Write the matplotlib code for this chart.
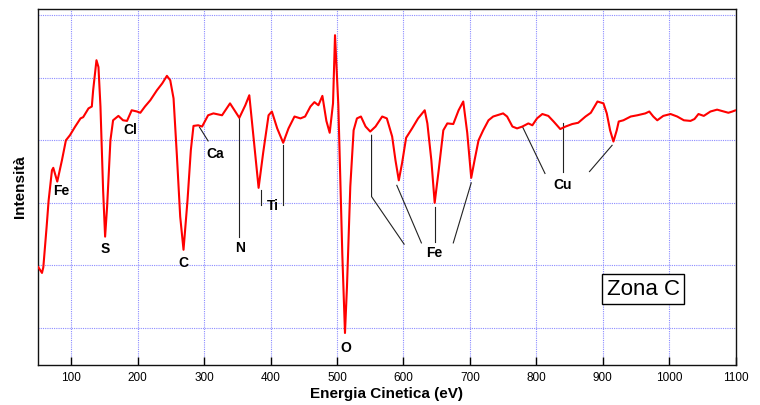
import numpy as np
import matplotlib
matplotlib.use("Agg")
import matplotlib.pyplot as plt

plt.rcParams['font.family'] = ['Liberation Sans', 'DejaVu Sans']

# spectrum (kinetic energy in eV, intensity in grid units)
energy = [50, 53, 56, 58, 63, 66, 71, 73, 79, 86, 92, 98, 106, 114, 118, 126, 131,
          133, 138, 141, 144, 148, 151, 154, 159, 163, 171, 178, 184, 191, 199, 204,
          211, 219, 229, 237, 244, 249, 254, 259, 264, 269, 275, 280, 284, 291, 297,
          306, 314, 327, 339, 347, 353, 362, 368, 374, 382, 389, 397, 402, 410, 419,
          427, 436, 445, 452, 460, 466, 472, 478, 484, 489, 494, 497, 502, 508, 512,
          515, 520, 525, 530, 536, 543, 550, 558, 568, 575, 583, 588, 593, 598, 604,
          613, 622, 632, 636, 642, 647, 653, 660, 666, 675, 683, 690, 696, 702, 707,
          713, 720, 728, 735, 741, 750, 756, 764, 771, 779, 788, 794, 801, 809, 818,
          826, 836, 844, 854, 863, 874, 882, 892, 901, 906, 911, 916, 921, 924, 931,
          942, 952, 964, 970, 976, 982, 991, 1002, 1012, 1022, 1032, 1038, 1044, 1052,
          1062, 1072, 1082, 1089, 1095, 1100]
intensity = [0.98, 0.93, 0.88, 0.97, 1.62, 2.04, 2.52, 2.56, 2.34, 2.68, 3.00, 3.08,
             3.22, 3.35, 3.37, 3.51, 3.54, 3.80, 4.28, 4.17, 3.54, 2.20, 1.46, 1.94,
             3.00, 3.32, 3.39, 3.32, 3.31, 3.48, 3.46, 3.44, 3.54, 3.64, 3.80, 3.91,
             4.03, 3.96, 3.67, 2.76, 1.78, 1.25, 2.04, 2.84, 3.23, 3.24, 3.22, 3.40,
             3.43, 3.40, 3.59, 3.46, 3.36, 3.56, 3.72, 3.08, 2.24, 2.81, 3.40, 3.46,
             3.19, 2.96, 3.19, 3.38, 3.35, 3.38, 3.54, 3.61, 3.56, 3.71, 3.31, 3.12,
             3.59, 4.68, 3.56, 1.17, -0.08, 0.66, 2.26, 3.16, 3.35, 3.38, 3.22, 3.14,
             3.22, 3.38, 3.35, 3.06, 2.68, 2.36, 2.64, 3.04, 3.19, 3.35, 3.48, 3.27,
             2.68, 2.00, 2.52, 3.16, 3.27, 3.26, 3.48, 3.62, 3.12, 2.40, 2.68, 3.00,
             3.16, 3.32, 3.38, 3.40, 3.43, 3.38, 3.22, 3.19, 3.22, 3.27, 3.24, 3.35,
             3.42, 3.39, 3.30, 3.18, 3.22, 3.26, 3.28, 3.38, 3.44, 3.62, 3.59, 3.43,
             3.16, 2.98, 3.16, 3.30, 3.32, 3.38, 3.40, 3.43, 3.46, 3.38, 3.32, 3.39,
             3.42, 3.38, 3.32, 3.31, 3.34, 3.42, 3.39, 3.46, 3.49, 3.46, 3.44, 3.46,
             3.48]

x_ticks = [100, 200, 300, 400, 500, 600, 700, 800, 900, 1000, 1100]
element_labels = ['Fe', 'S', 'Cl', 'C', 'Ca', 'N', 'Ti', 'O', 'Fe', 'Cu']

fig = plt.figure(figsize=(7.6, 4.05), dpi=100)
ax = fig.add_axes([0.05, 0.099, 0.918, 0.879])

# grid first so the spectrum sits on top
for xv in x_ticks[:-1]:
    ax.axvline(xv, color='#8c8cff', lw=0.8, ls=(0, (1, 1)), zorder=0)
for yv in range(6):
    ax.axhline(yv, color='#8c8cff', lw=0.8, ls=(0, (1, 1)), zorder=0)

ax.plot(energy, intensity, color='#ff0000', lw=1.5, zorder=3,
        solid_joinstyle='round', solid_capstyle='round')

# element labels
lab = dict(fontsize=10, fontweight='bold', ha='center', va='center', zorder=4)
ax.text(85, 2.19, element_labels[0], **lab)
ax.text(151, 1.26, element_labels[1], **lab)
ax.text(189, 3.16, element_labels[2], **lab)
ax.text(269, 1.04, element_labels[3], **lab)
ax.text(317, 2.78, element_labels[4], **lab)
ax.text(354, 1.28, element_labels[5], **lab)
ax.text(403, 1.95, element_labels[6], **lab)
ax.text(513, -0.32, element_labels[7], **lab)
ax.text(647, 1.20, element_labels[8], **lab)
ax.text(839, 2.28, element_labels[9], **lab)

# leader lines
lk = dict(color='#222222', lw=0.8, zorder=2)
ax.plot([293, 306], [3.21, 2.99], **lk)              # Ca
ax.plot([353, 353], [3.36, 1.45], **lk)              # N
ax.plot([385, 385], [2.20, 1.96], **lk)              # Ti
ax.plot([418, 418], [2.92, 1.96], **lk)
ax.plot([552, 552, 601], [3.08, 2.10, 1.34], **lk)   # Fe
ax.plot([590, 627], [2.28, 1.36], **lk)
ax.plot([647, 647], [1.94, 1.38], **lk)
ax.plot([702, 675], [2.32, 1.36], **lk)
ax.plot([779, 813], [3.22, 2.47], **lk)              # Cu
ax.plot([840, 840], [3.27, 2.50], **lk)
ax.plot([914, 880], [2.92, 2.50], **lk)

ax.text(961, 0.62, 'Zona C', fontsize=16, ha='center', va='center', zorder=5,
        bbox=dict(boxstyle='square,pad=0.2', fc='white', ec='black', lw=1))

ax.set_xlim(50, 1100)
ax.set_ylim(-0.59, 5.10)
ax.set_xticks(x_ticks)
ax.set_yticks([])
ax.tick_params(axis='x', direction='in', length=6, width=1, labelsize=8.5, pad=5)
for s in ax.spines.values():
    s.set_linewidth(1.0)
    s.set_color('#111111')

ax.set_xlabel('Energia Cinetica (eV)', fontsize=11, fontweight='bold', labelpad=2)
ax.set_ylabel('Intensità', fontsize=11, fontweight='bold', labelpad=8)

fig.savefig('out.png', dpi=100)
